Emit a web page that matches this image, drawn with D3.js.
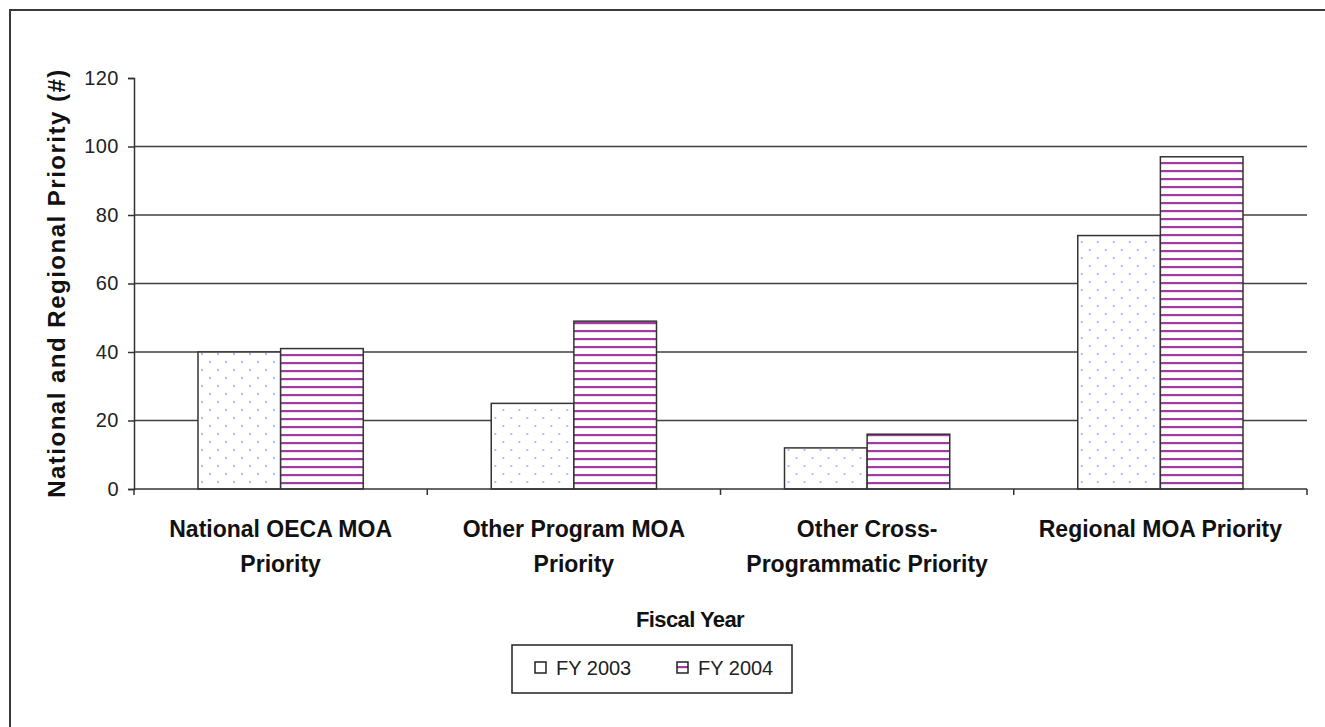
<!DOCTYPE html>
<html>
<head>
<meta charset="utf-8">
<script src="https://cdn.jsdelivr.net/npm/d3@7"></script>
<style>
  body { margin: 0; background: #fff; }
  svg { display: block; font-family: "Liberation Sans", Arial, sans-serif; }
</style>
</head>
<body>
<div id="chart"></div>
<script>
// Chart data
const categories = [
    ["National OECA MOA", "Priority"],
    ["Other Program MOA", "Priority"],
    ["Other Cross-", "Programmatic Priority"],
    ["Regional MOA Priority"]
];
const seriesNames = ["FY 2003", "FY 2004"];
const fy2003 = [40, 25, 12, 74];
const fy2004 = [41, 49, 16, 97];
const yTicks = [0, 20, 40, 60, 80, 100, 120];

const W = 1325, H = 727;
const margin = { top: 78, right: 18, bottom: 238, left: 134 },
      width = W - margin.left - margin.right,
      height = H - margin.top - margin.bottom;

const svg = d3.select("#chart")
    .append("svg")
    .attr("width", W)
    .attr("height", H);

// Patterns
const defs = svg.append("defs");
const dots = defs.append("pattern")
    .attr("id", "dots")
    .attr("patternUnits", "userSpaceOnUse")
    .attr("width", 16).attr("height", 16);
dots.append("rect").attr("width", 16).attr("height", 16).attr("fill", "#fff");
dots.append("rect").attr("x", 3).attr("y", 3).attr("width", 2).attr("height", 2).attr("fill", "#b8b8ff");
dots.append("rect").attr("x", 11).attr("y", 11).attr("width", 2).attr("height", 2).attr("fill", "#b8b8ff");

const stripes = defs.append("pattern")
    .attr("id", "stripes")
    .attr("patternUnits", "userSpaceOnUse")
    .attr("width", 8).attr("height", 8);
stripes.append("rect").attr("width", 8).attr("height", 8).attr("fill", "#fff");
stripes.append("rect").attr("y", 4).attr("width", 8).attr("height", 2.2).attr("fill", "#a23ba2");

// Outer frame (only top and left visible)
svg.append("path")
    .attr("d", `M10,${H + 5} L10,10 L${W + 5},10`)
    .attr("fill", "none")
    .attr("stroke", "#3a3a3a")
    .attr("stroke-width", 2);

const g = svg.append("g")
    .attr("transform", `translate(${margin.left},${margin.top})`);

const x0 = d3.scaleBand()
    .domain(d3.range(categories.length))
    .range([0, width])
    .paddingInner(0)
    .paddingOuter(0);

const x1 = d3.scaleBand()
    .domain(seriesNames)
    .range([64, x0.bandwidth() - 64]);

const y = d3.scaleLinear()
    .domain([0, 120])
    .range([height, 0]);

// Gridlines
g.selectAll(".grid")
    .data(yTicks.filter(d => d > 0 && d < 120))
    .enter()
    .append("line")
    .attr("x1", 0).attr("x2", width)
    .attr("y1", d => y(d)).attr("y2", d => y(d))
    .attr("stroke", "#404040")
    .attr("stroke-width", 1.5);

// Bars
const data = categories.map((c, i) => ({ i, values: [fy2003[i], fy2004[i]] }));
const fills = ["url(#dots)", "url(#stripes)"];

const groups = g.selectAll(".grp")
    .data(data)
    .enter()
    .append("g")
    .attr("transform", d => `translate(${x0(d.i)},0)`);

groups.selectAll("rect")
    .data(d => d.values.map((v, k) => ({ v, k })))
    .enter()
    .append("rect")
    .attr("x", d => x1(seriesNames[d.k]))
    .attr("y", d => y(d.v))
    .attr("width", x1.bandwidth())
    .attr("height", d => y(0) - y(d.v))
    .attr("fill", d => fills[d.k])
    .attr("stroke", "#333")
    .attr("stroke-width", 1.5);

// Y axis
const yAxis = g.append("g")
    .call(d3.axisLeft(y).tickValues(yTicks).tickSize(6).tickPadding(9));
yAxis.select(".domain").attr("stroke", "#333").attr("stroke-width", 1.5);
yAxis.selectAll(".tick line").attr("stroke", "#333").attr("stroke-width", 1.5);
yAxis.selectAll("text")
    .attr("font-size", "20px")
    .attr("letter-spacing", "0.5px")
    .attr("fill", "#222")
    .attr("font-family", "Liberation Sans, Arial, sans-serif");

// X axis line and ticks at group boundaries
g.append("line")
    .attr("x1", 0).attr("x2", width)
    .attr("y1", height).attr("y2", height)
    .attr("stroke", "#333").attr("stroke-width", 1.5);
g.selectAll(".xtick")
    .data(d3.range(categories.length + 1))
    .enter()
    .append("line")
    .attr("x1", i => i * x0.bandwidth()).attr("x2", i => i * x0.bandwidth())
    .attr("y1", height).attr("y2", height + 6)
    .attr("stroke", "#333").attr("stroke-width", 1.5);

// Category labels
const catLabels = g.selectAll(".cat")
    .data(data)
    .enter()
    .append("text")
    .attr("x", d => x0(d.i) + x0.bandwidth() / 2)
    .attr("y", height + 48)
    .attr("text-anchor", "middle")
    .attr("font-size", "23px")
    .attr("font-weight", "bold")
    .attr("letter-spacing", "0px")
    .attr("fill", "#111");
catLabels.selectAll("tspan")
    .data(d => categories[d.i])
    .enter()
    .append("tspan")
    .attr("x", function () { return d3.select(this.parentNode).attr("x"); })
    .attr("dy", (d, k) => k === 0 ? 0 : 35)
    .text(d => d);

// X axis title
g.append("text")
    .attr("x", 556)
    .attr("y", height + 138)
    .attr("text-anchor", "middle")
    .attr("font-size", "22px")
    .attr("font-weight", "bold")
    .attr("letter-spacing", "-0.6px")
    .attr("fill", "#111")
    .text("Fiscal Year");

// Y axis title
g.append("text")
    .attr("transform", `translate(-69,${height / 2 - 0.5}) rotate(-90)`)
    .attr("text-anchor", "middle")
    .attr("font-size", "24px")
    .attr("font-weight", "bold")
    .attr("letter-spacing", "1.5px")
    .attr("fill", "#111")
    .text("National and Regional Priority (#)");

// Legend
const legend = svg.append("g").attr("transform", "translate(512,645)");
legend.append("rect")
    .attr("width", 280).attr("height", 48)
    .attr("fill", "#fff")
    .attr("stroke", "#222").attr("stroke-width", 1.5);
const items = legend.selectAll(".item")
    .data(seriesNames)
    .enter()
    .append("g")
    .attr("transform", (d, k) => `translate(${k === 0 ? 23 : 165},17)`);
items.append("rect")
    .attr("width", 11).attr("height", 11)
    .attr("fill", (d, k) => k === 0 ? "#fff" : "url(#stripes)")
    .attr("stroke", "#222").attr("stroke-width", 1.5);
items.append("text")
    .attr("x", 21).attr("y", 13)
    .attr("font-size", "20px")
    .attr("letter-spacing", "0px")
    .attr("fill", "#222")
    .text(d => d);
</script>
</body>
</html>
